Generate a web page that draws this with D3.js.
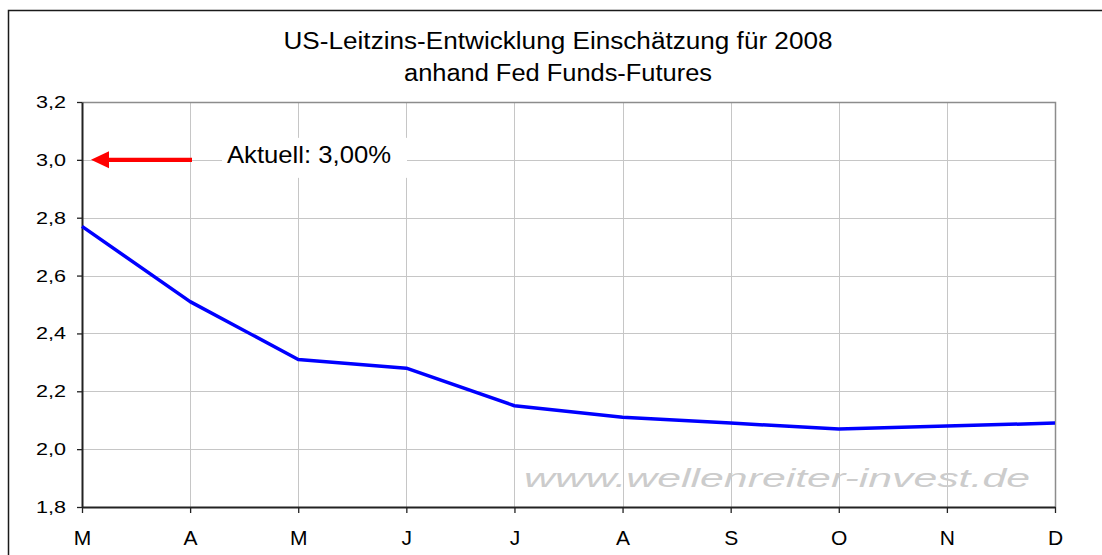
<!DOCTYPE html>
<html>
<head>
<meta charset="utf-8">
<script src="https://cdn.jsdelivr.net/npm/d3@7"></script>
<style>
  body { margin: 0; background: #fff; }
  text { font-family: "Liberation Sans", Arial, sans-serif; fill: #000; }
</style>
</head>
<body>
<div id="chart"></div>
<script>
var months = ["M", "A", "M", "J", "J", "A", "S", "O", "N", "D"];
var rates = [2.77, 2.51, 2.31, 2.28, 2.15, 2.11, 2.09, 2.07, 2.08, 2.09];
var yTicks = [1.8, 2.0, 2.2, 2.4, 2.6, 2.8, 3.0, 3.2];
var currentRate = 3.0;
var titleLines = ["US-Leitzins-Entwicklung Einschätzung für 2008", "anhand Fed Funds-Futures"];
var annotationText = "Aktuell: 3,00%";
var watermark = "www.wellenreiter-invest.de";

var W = 1102, H = 555;
var margin = {top: 102, right: 47, bottom: 48, left: 82},
    width = W - margin.left - margin.right,
    height = H - margin.top - margin.bottom;

var svg = d3.select("#chart")
    .append("svg")
    .attr("width", W)
    .attr("height", H);

// outer chart frame (only top/left visible in the picture)
svg.append("rect")
    .attr("x", 8.5).attr("y", 10.5)
    .attr("width", 1300).attr("height", 700)
    .attr("fill", "none")
    .attr("stroke", "#1a1a1a")
    .attr("stroke-width", 1.5);

// title
svg.selectAll(".title")
    .data(titleLines)
    .enter().append("text")
    .attr("x", 558)
    .attr("y", function (d, i) { return 49 + i * 32; })
    .attr("text-anchor", "middle")
    .attr("font-size", 23)
    .attr("textLength", function (d, i) { return i === 0 ? 549 : 308; })
    .attr("lengthAdjust", "spacingAndGlyphs")
    .text(function (d) { return d; });

var g = svg.append("g")
    .attr("transform", "translate(" + margin.left + "," + margin.top + ")");

var x = d3.scalePoint()
    .domain(d3.range(months.length))
    .range([0, width]);

var y = d3.scaleLinear()
    .domain([1.8, 3.2])
    .range([height, 0]);

// grid
g.append("g").selectAll("line")
    .data(yTicks)
    .enter().append("line")
    .attr("x1", 0).attr("x2", width)
    .attr("y1", function (d) { return Math.round(y(d)) + 0.5; })
    .attr("y2", function (d) { return Math.round(y(d)) + 0.5; })
    .attr("stroke", "#c6c6c6");

g.append("g").selectAll("line")
    .data(d3.range(months.length))
    .enter().append("line")
    .attr("y1", 0).attr("y2", height)
    .attr("x1", function (d) { return Math.round(x(d)) + 0.5; })
    .attr("x2", function (d) { return Math.round(x(d)) + 0.5; })
    .attr("stroke", "#c6c6c6");

// watermark
g.append("text")
    .attr("x", 442)
    .attr("y", 385)
    .attr("font-family", "DejaVu Sans")
    .attr("font-style", "italic")
    .attr("font-size", 25)
    .attr("textLength", 506)
    .attr("lengthAdjust", "spacingAndGlyphs")
    .style("fill", "#cccccc")
    .text(watermark);

// top and right frame of plot
g.append("path")
    .attr("d", "M0,0.5H" + (width + 0.5) + "V" + height)
    .attr("fill", "none")
    .attr("stroke", "#8c8c8c")
    .attr("stroke-width", 1.5);

// axes
var yAxis = g.append("g")
    .call(d3.axisLeft(y).tickValues(yTicks).tickSize(5).tickSizeOuter(0)
        .tickFormat(function (d) { return d3.format(".1f")(d).replace(".", ","); }));
var xAxis = g.append("g")
    .attr("transform", "translate(0," + height + ")")
    .call(d3.axisBottom(x).tickSize(6).tickSizeOuter(0)
        .tickFormat(function (i) { return months[i]; }));

[yAxis, xAxis].forEach(function (ax) {
    ax.select(".domain").attr("stroke", "#222").attr("stroke-width", 2);
    ax.selectAll(".tick line").attr("stroke", "#222").attr("stroke-width", 1.3);
    ax.selectAll("text").attr("fill", "#000").attr("font-family", "Liberation Sans, Arial, sans-serif");
});
yAxis.selectAll("text")
    .attr("font-size", 17)
    .attr("x", -16)
    .attr("textLength", 30)
    .attr("lengthAdjust", "spacingAndGlyphs");
xAxis.selectAll("text")
    .attr("font-size", 21)
    .attr("y", 23);

// line
g.append("path")
    .datum(rates)
    .attr("fill", "none")
    .attr("stroke", "#0000ff")
    .attr("stroke-width", 3.5)
    .attr("stroke-linejoin", "round")
    .attr("d", d3.line()
        .x(function (d, i) { return x(i); })
        .y(function (d) { return y(d); }));

// annotation: white box + text + arrow
var ay = y(currentRate);
g.append("rect")
    .attr("x", 140).attr("y", ay - 22)
    .attr("width", 185).attr("height", 40)
    .attr("fill", "#fff");
g.append("text")
    .attr("x", 145)
    .attr("y", ay + 3)
    .attr("font-size", 24)
    .attr("textLength", 164)
    .attr("lengthAdjust", "spacingAndGlyphs")
    .text(annotationText);

g.append("line")
    .attr("x1", 24).attr("x2", 110)
    .attr("y1", ay).attr("y2", ay)
    .attr("stroke", "#ff0000")
    .attr("stroke-width", 4.3);
g.append("path")
    .attr("d", "M9," + ay + "L27," + (ay - 8.5) + "L27," + (ay + 8.5) + "Z")
    .attr("fill", "#ff0000");
</script>
</body>
</html>
